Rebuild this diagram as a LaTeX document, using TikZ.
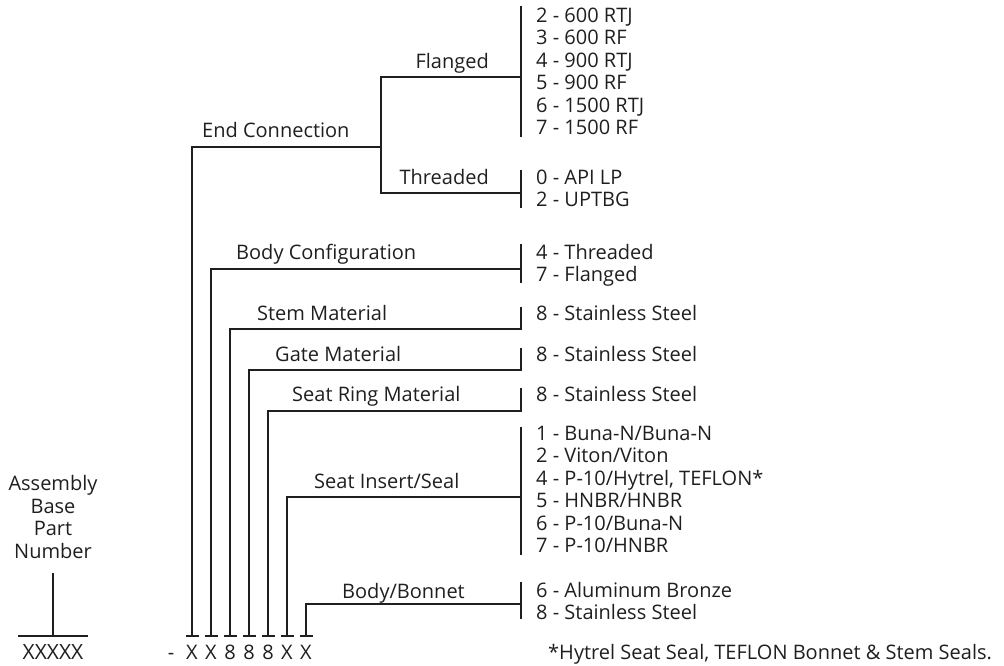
\documentclass[tikz,border=0pt]{standalone}
\usepackage{fontspec}
\setmainfont{Open Sans}
\usetikzlibrary{positioning}

\begin{document}
\begin{tikzpicture}[
  x=1pt, y=-1pt,
  wire/.style={line width=2.9pt, draw=black!88},
  lbl/.style={anchor=base west, inner sep=0pt, text=black!88, font=\fontsize{20}{22.5}\selectfont},
  opts/.style={anchor=base west, inner sep=0pt, align=left, text=black!88, font=\fontsize{20}{22.5}\selectfont},
  code/.style={anchor=base, inner sep=0pt, text=black!88, font=\fontsize{20}{22.5}\selectfont},
]
  \useasboundingbox (0,0) rectangle (1004,665);

  % part number columns
  \coordinate (t1) at (192,636);
  \coordinate (t2) at (211,636);
  \coordinate (t3) at (230,636);
  \coordinate (t4) at (249,636);
  \coordinate (t5) at (268,636);
  \coordinate (t6) at (287,636);
  \coordinate (t7) at (306,636);
  \node[code] (dash) at (171,659) {-};
  \node[code] (d1) at (192,659) {X};
  \node[code] (d2) at (211,659) {X};
  \node[code] (d3) at (230,659) {8};
  \node[code] (d4) at (249,659) {8};
  \node[code] (d5) at (268,659) {8};
  \node[code] (d6) at (287,659) {X};
  \node[code] (d7) at (306,659) {X};

  % junctions on the option bars
  \coordinate (jEnd) at (381,147);
  \coordinate (jFl) at (521,77);
  \coordinate (jTh) at (521,193);
  \coordinate (jBody) at (521,269);
  \coordinate (jStem) at (521,329);
  \coordinate (jGate) at (521,370);
  \coordinate (jRing) at (521,411);
  \coordinate (jIns) at (521,497);
  \coordinate (jBon) at (521,604);

  % base part number (multi-line nodes sit on their last line)
  \coordinate (base) at (53,636);
  \node[code, align=center] (asm) at (53,558) {Assembly\\Base\\Part\\Number};
  \node[code, font=\fontsize{21}{22.5}\selectfont] (xx) at (53,659) {XXXXX};
  \draw[wire] (18,636) -- (88,636);
  \draw[wire] (base) -- (53,573);

  % labels
  \node[lbl] (endc) at (202,137) {End Connection};
  \node[lbl, anchor=base east] (fl) at (489,68) {Flanged};
  \node[lbl, anchor=base east] (th) at (489,184) {Threaded};
  \node[lbl] (body) at (236,259) {Body Configuration};
  \node[lbl] (stem) at (257,320) {Stem Material};
  \node[lbl] (gate) at (275,361) {Gate Material};
  \node[lbl] (ring) at (292,401) {Seat Ring Material};
  \node[lbl] (ins) at (314,488) {Seat Insert/Seal};
  \node[lbl] (bon) at (342,598) {Body/Bonnet};

  % option lists
  \node[opts] (flList) at (536,134.5) {2 - 600 RTJ\\3 - 600 RF\\4 - 900 RTJ\\5 - 900 RF\\6 - 1500 RTJ\\7 - 1500 RF};
  \node[opts] (thList) at (536,206.5) {0 - API LP\\2 - UPTBG};
  \node[opts] (bodyList) at (536,281.5) {4 - Threaded\\7 - Flanged};
  \node[opts] (stemList) at (536,320) {8 - Stainless Steel};
  \node[opts] (gateList) at (536,361) {8 - Stainless Steel};
  \node[opts] (ringList) at (536,401) {8 - Stainless Steel};
  \node[opts] (insList) at (536,552.5) {1 - Buna-N/Buna-N\\2 - Viton/Viton\\4 - P-10/Hytrel, TEFLON*\\5 - HNBR/HNBR\\6 - P-10/Buna-N\\7 - P-10/HNBR};
  \node[opts] (bonList) at (536,619.5) {6 - Aluminum Bronze\\8 - Stainless Steel};
  \node[lbl] (note) at (548,659) {*Hytrel Seat Seal, TEFLON Bonnet \& Stem Seals.};

  % bars
  \draw[wire] (521,6) -- (521,137);
  \draw[wire] (521,170) -- (521,208);
  \draw[wire] (521,244) -- (521,283);
  \draw[wire] (521,427) -- (521,555);
  \draw[wire] (521,582) -- (521,619);

  % wires
  \draw[wire] (t1) |- (jEnd);
  \draw[wire] (jFl) -| (jEnd |- jTh) -- (jTh);
  \draw[wire] (t2) |- (jBody);
  \draw[wire] (t3) |- (jStem) -- ++(0,-22);
  \draw[wire] (t4) |- (jGate) -- ++(0,-22);
  \draw[wire] (t5) |- (jRing) -- ++(0,-23);
  \draw[wire] (t6) |- (jIns);
  \draw[wire] (t7) |- (jBon);

  % ticks
  \draw[wire] ([xshift=-6.5pt]t1) -- ([xshift=6.5pt]t1);
  \draw[wire] ([xshift=-6.5pt]t2) -- ([xshift=6.5pt]t2);
  \draw[wire] ([xshift=-6.5pt]t3) -- ([xshift=6.5pt]t3);
  \draw[wire] ([xshift=-6.5pt]t4) -- ([xshift=6.5pt]t4);
  \draw[wire] ([xshift=-6.5pt]t5) -- ([xshift=6.5pt]t5);
  \draw[wire] ([xshift=-6.5pt]t6) -- ([xshift=6.5pt]t6);
  \draw[wire] ([xshift=-6.5pt]t7) -- ([xshift=6.5pt]t7);
\end{tikzpicture}
\end{document}
